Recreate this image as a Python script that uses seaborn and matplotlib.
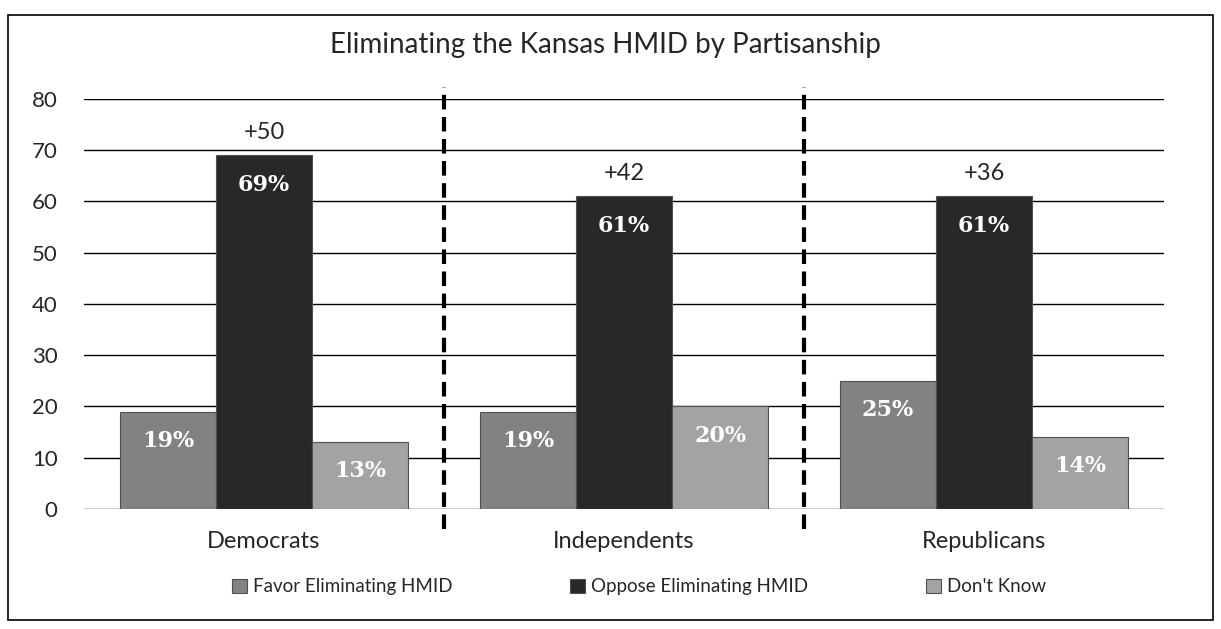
import seaborn as sns
import matplotlib.pyplot as plt
import pandas as pd
from matplotlib.patches import Rectangle

groups = ['Democrats', 'Independents', 'Republicans']
series = ['Favor Eliminating HMID', 'Oppose Eliminating HMID', "Don't Know"]
favor = [19, 19, 25]
oppose = [69, 61, 61]
dont_know = [13, 20, 14]
margins = ['+50', '+42', '+36']

df = pd.DataFrame({
    'group': groups * 3,
    'answer': [series[0]] * 3 + [series[1]] * 3 + [series[2]] * 3,
    'pct': favor + oppose + dont_know,
})

sns.set_style('white')
plt.rcParams['font.family'] = ['Lato', 'DejaVu Sans']

fig = plt.figure(figsize=(12.21, 6.29), dpi=100)
ax = fig.add_axes([84 / 1221, 0.191, 1080 / 1221, 0.6516])

colors = ['#828282', '#282828', '#a3a3a3']
sns.barplot(data=df, x='group', y='pct', hue='answer', hue_order=series,
            palette=colors, width=0.8, edgecolor='#505050', linewidth=0.8,
            saturation=1, ax=ax, zorder=3)

ax.set_ylim(0, 80)
ax.set_xlim(-0.5, 2.5)
ax.set_yticks(range(0, 81, 10))
ax.yaxis.grid(True, color='black', linewidth=1.0, zorder=0)
ax.set_axisbelow(True)
for s in ax.spines.values():
    s.set_visible(False)
ax.set_xlabel('')
ax.set_ylabel('')
ax.tick_params(axis='y', labelsize=16, pad=19, length=0)
ax.tick_params(axis='x', labelsize=17, pad=16, length=0)

# percent labels inside the bars
for cont in ax.containers:
    for b in cont:
        ax.annotate(f'{int(b.get_height())}%',
                    (b.get_x() + b.get_width() / 2, b.get_height()),
                    xytext=(0, -21), textcoords='offset points',
                    ha='center', va='center', color='white',
                    fontsize=16, fontweight='bold', family='DejaVu Serif')

# margin labels above the oppose bars
for b, m in zip(ax.containers[1], margins):
    ax.annotate(m, (b.get_x() + b.get_width() / 2, b.get_height()),
                xytext=(0, 16.5), textcoords='offset points',
                ha='center', va='center', fontsize=17)

# dashed separators
for xv in [0.5, 1.5]:
    ax.axvline(xv, ymin=-0.05, ymax=1.03, color='black', linewidth=3,
               linestyle=(0, (3.5, 1.8)), clip_on=False, zorder=5)

fig.text(605 / 1221, 1 - 45 / 629, 'Eliminating the Kansas HMID by Partisanship',
         ha='center', va='center', fontsize=20)

h, l = ax.get_legend_handles_labels()
ax.legend(h, l, loc='center', bbox_to_anchor=(0.514, -0.19), ncol=3,
          frameon=False, fontsize=13.5, handlelength=0.8, handleheight=0.8,
          handletextpad=0.3, columnspacing=6.3)

fig.add_artist(Rectangle((8 / 1221, 1 - 620 / 629), 1205 / 1221, 605 / 629,
                         transform=fig.transFigure, fill=False,
                         edgecolor='black', linewidth=1.2))

fig.savefig('out.png', dpi=100)
